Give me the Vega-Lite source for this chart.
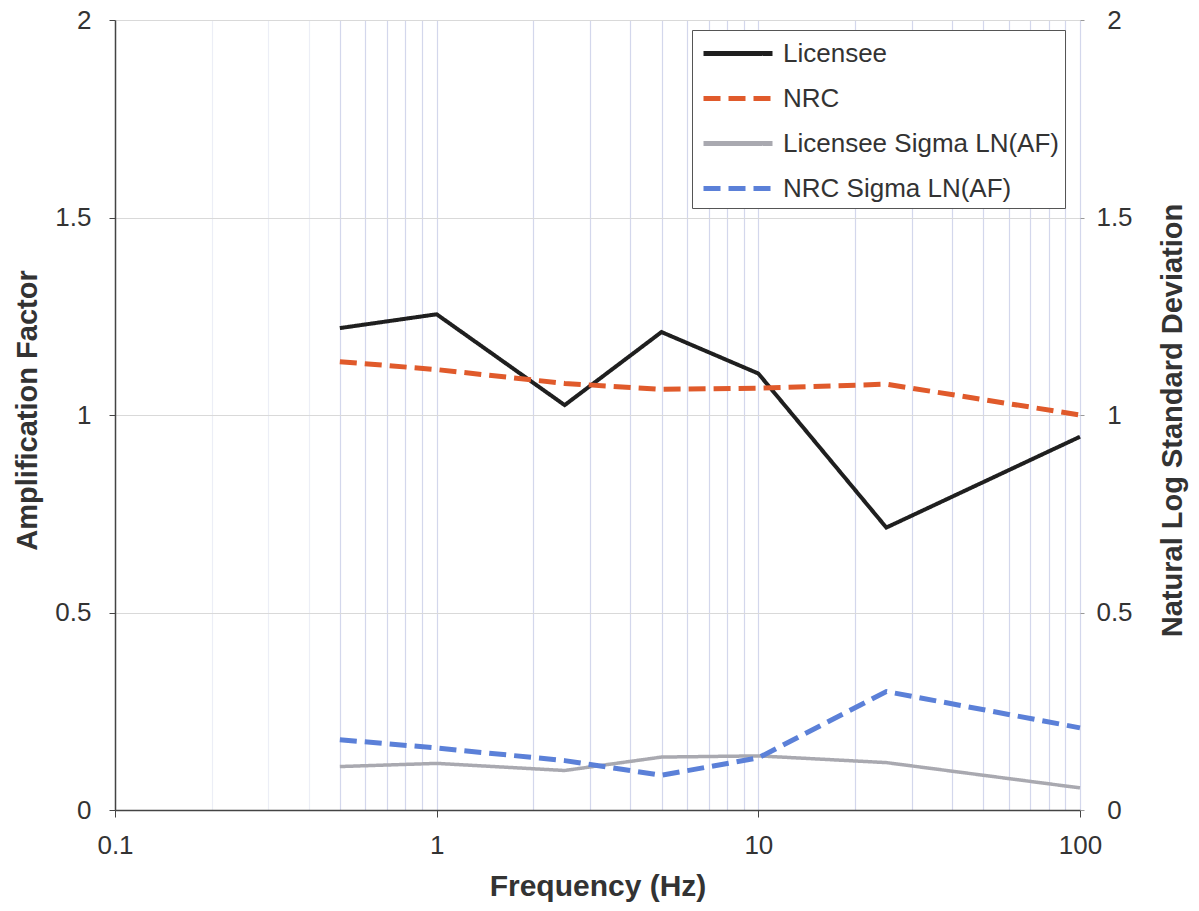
{
  "$schema": "https://vega.github.io/schema/vega-lite/v6.json",
  "width": 965,
  "height": 790,
  "autosize": "none",
  "padding": {"left": 115, "top": 20, "right": 119, "bottom": 101},
  "background": "white",
  "config": {
    "view": {"stroke": null},
    "font": "Liberation Sans",
    "legend": {
      "orient": "none",
      "legendX": 577,
      "legendY": 10,
      "symbolType": "M-0.8,0H3.8",
      "symbolSize": 900,
      "symbolStrokeWidth": 5,
      "labelFontSize": 26,
      "labelColor": "#333333",
      "labelFont": "Liberation Sans",
      "labelOffset": 50,
      "labelLimit": 400,
      "padding": 6,
      "rowPadding": 14,
      "strokeColor": "#555555",
      "fillColor": "white"
    }
  },
  "data": {
    "values": [
      {"freq": 0.5, "value": 1.22, "series": "Licensee"},
      {"freq": 1, "value": 1.255, "series": "Licensee"},
      {"freq": 2.5, "value": 1.025, "series": "Licensee"},
      {"freq": 5, "value": 1.21, "series": "Licensee"},
      {"freq": 10, "value": 1.105, "series": "Licensee"},
      {"freq": 25, "value": 0.715, "series": "Licensee"},
      {"freq": 100, "value": 0.945, "series": "Licensee"},
      {"freq": 0.5, "value": 1.135, "series": "NRC"},
      {"freq": 1, "value": 1.115, "series": "NRC"},
      {"freq": 2.5, "value": 1.08, "series": "NRC"},
      {"freq": 5, "value": 1.065, "series": "NRC"},
      {"freq": 10, "value": 1.068, "series": "NRC"},
      {"freq": 25, "value": 1.078, "series": "NRC"},
      {"freq": 100, "value": 1.0, "series": "NRC"},
      {"freq": 0.5, "value": 0.11, "series": "Licensee Sigma LN(AF)"},
      {"freq": 1, "value": 0.118, "series": "Licensee Sigma LN(AF)"},
      {"freq": 2.5, "value": 0.1, "series": "Licensee Sigma LN(AF)"},
      {"freq": 5, "value": 0.134, "series": "Licensee Sigma LN(AF)"},
      {"freq": 10, "value": 0.137, "series": "Licensee Sigma LN(AF)"},
      {"freq": 25, "value": 0.12, "series": "Licensee Sigma LN(AF)"},
      {"freq": 100, "value": 0.056, "series": "Licensee Sigma LN(AF)"},
      {"freq": 0.5, "value": 0.178, "series": "NRC Sigma LN(AF)"},
      {"freq": 1, "value": 0.157, "series": "NRC Sigma LN(AF)"},
      {"freq": 2.5, "value": 0.125, "series": "NRC Sigma LN(AF)"},
      {"freq": 5, "value": 0.088, "series": "NRC Sigma LN(AF)"},
      {"freq": 10, "value": 0.132, "series": "NRC Sigma LN(AF)"},
      {"freq": 25, "value": 0.3, "series": "NRC Sigma LN(AF)"},
      {"freq": 100, "value": 0.208, "series": "NRC Sigma LN(AF)"}
    ]
  },
  "encoding": {
    "x": {
      "field": "freq",
      "type": "quantitative",
      "scale": {"type": "log", "domain": [0.1, 100], "nice": false},
      "axis": {
        "values": [0.1, 0.2, 0.3, 0.4, 0.5, 0.6, 0.7, 0.8, 0.9, 1, 2, 3, 4, 5, 6, 7, 8, 9, 10, 20, 30, 40, 50, 60, 70, 80, 90, 100],
        "format": "~g",
        "labelExpr": "abs(log(datum.value)/LN10 - round(log(datum.value)/LN10)) < 0.001 ? datum.label : ''",
        "labelOverlap": false,
        "labelFlush": false,
        "labelBound": false,
        "labelFontSize": 26,
        "labelColor": "#333333",
        "labelPadding": 15,
        "tickSize": 7,
        "tickColor": {"condition": {"test": "abs(log(datum.value)/LN10 - round(log(datum.value)/LN10)) < 0.001", "value": "#444444"}, "value": "rgba(0,0,0,0)"},
        "grid": true,
        "gridColor": {"condition": {"test": "datum.value < 0.45", "value": "#eceef6"}, "value": "#d3d7ec"},
        "gridWidth": 1.2,
        "domainColor": "#444444",
        "domainWidth": 1.5,
        "title": "Frequency (Hz)",
        "titleFontSize": 30,
        "titleFontWeight": "bold",
        "titleColor": "#333333",
        "titleY": 76,
        "titleBaseline": "middle"
      }
    },
    "color": {
      "field": "series",
      "type": "nominal",
      "scale": {
        "domain": ["Licensee", "NRC", "Licensee Sigma LN(AF)", "NRC Sigma LN(AF)"],
        "range": ["#1f1f1f", "#e05a2b", "#a9a9b0", "#5b80d8"]
      },
      "legend": {"title": null}
    },
    "strokeDash": {
      "field": "series",
      "type": "nominal",
      "scale": {
        "domain": ["Licensee", "NRC", "Licensee Sigma LN(AF)", "NRC Sigma LN(AF)"],
        "range": [[1, 0], [17, 8], [1, 0], [17, 8]]
      },
      "legend": {"title": null}
    }
  },
  "layer": [
    {
      "encoding": {
        "y": {
          "field": "value",
          "type": "quantitative",
          "scale": {"domain": [0, 2], "nice": false},
          "axis": {
            "orient": "left",
            "values": [0, 0.5, 1, 1.5, 2],
            "format": "~g",
            "title": "Amplification Factor",
            "titleFontSize": 29,
            "titleFontWeight": "bold",
            "titleColor": "#333333",
            "titleAngle": -90,
            "titleX": -88,
            "titleY": 390,
            "titleAlign": "center",
            "titleBaseline": "middle",
            "labelFontSize": 26,
            "labelColor": "#333333",
            "labelPadding": 18,
            "tickSize": 6,
            "tickColor": "#444444",
            "domainColor": "#444444",
            "domainWidth": 1.5,
            "grid": true,
            "gridColor": "#d9d9d9",
            "gridWidth": 1.2
          }
        }
      },
      "layer": [
        {
          "transform": [{"filter": "datum.series === 'Licensee'"}],
          "mark": {"type": "line", "strokeWidth": 4, "strokeJoin": "miter"}
        },
        {
          "transform": [{"filter": "datum.series === 'NRC'"}],
          "mark": {"type": "line", "strokeWidth": 5}
        }
      ]
    },
    {
      "encoding": {
        "y": {
          "field": "value",
          "type": "quantitative",
          "scale": {"domain": [0, 2], "nice": false},
          "axis": {
            "orient": "right",
            "values": [0, 0.5, 1, 1.5, 2],
            "format": "~g",
            "title": "Natural Log Standard Deviation",
            "titleFontSize": 29,
            "titleFontWeight": "bold",
            "titleColor": "#333333",
            "titleAngle": -90,
            "titleX": 92,
            "titleY": 400,
            "titleAlign": "center",
            "titleBaseline": "middle",
            "labelFontSize": 26,
            "labelColor": "#333333",
            "labelAlign": "center",
            "labelPadding": 30,
            "tickSize": 4,
            "tickColor": "#999999",
            "domain": false,
            "grid": false
          }
        }
      },
      "layer": [
        {
          "transform": [{"filter": "datum.series === 'Licensee Sigma LN(AF)'"}],
          "mark": {"type": "line", "strokeWidth": 3.5}
        },
        {
          "transform": [{"filter": "datum.series === 'NRC Sigma LN(AF)'"}],
          "mark": {"type": "line", "strokeWidth": 5}
        }
      ]
    }
  ],
  "resolve": {"scale": {"y": "independent"}}
}
